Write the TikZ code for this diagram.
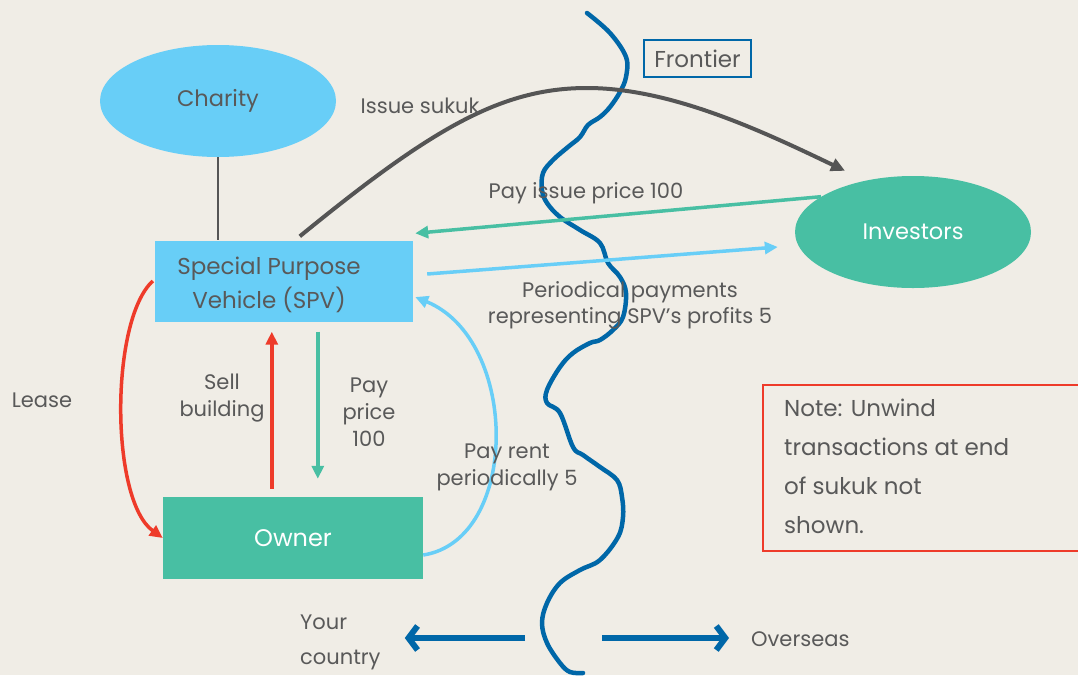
\documentclass[tikz,border=0pt]{standalone}
\usepackage{fontspec}
\setmainfont{Poppins}
\usetikzlibrary{shapes.geometric,arrows.meta,calc}
\definecolor{bg}{RGB}{240,237,230}
\definecolor{lblue}{RGB}{104,206,247}
\definecolor{teal}{RGB}{72,191,163}
\definecolor{txt}{RGB}{89,89,89}
\definecolor{dgray}{RGB}{85,85,85}
\definecolor{redc}{RGB}{238,59,42}
\definecolor{dblue}{RGB}{0,103,168}
\tikzset{
  lab/.style={text=txt,font=\fontsize{21}{27}\selectfont,align=center,inner sep=0pt},
  ell/.style={ellipse,minimum width=236pt,minimum height=112pt,inner sep=0pt,font=\fontsize{22.5}{27}\selectfont},
  boxx/.style={rectangle,inner sep=0pt,font=\fontsize{23}{27}\selectfont},
  arr/.style={line width=3.5pt,-{Triangle[length=13pt,width=12pt]}},
  bigarr/.style={line width=6pt,dblue,-{Straight Barb[length=9pt,width=24pt]}},
}
\begin{document}
\begin{tikzpicture}[x=1pt,y=-1pt]
\fill[bg] (0,0) rectangle (1078,675);
\useasboundingbox (0,0) rectangle (1078,675);

% nodes
\node[ell,fill=lblue,text=txt] (charity) at (218,101) {Charity};
\node[ell,fill=teal,text=white] (investors) at (913,232) {Investors};
\node[boxx,fill=lblue,minimum width=258pt,minimum height=81pt] (spv) at (284,281) {};
\node[lab,font=\fontsize{23}{34}\selectfont] (spvtext) at (269,285) {Special Purpose\\Vehicle (SPV)};
\node[boxx,fill=teal,text=white,minimum width=260pt,minimum height=82pt,font=\fontsize{24}{27}\selectfont] (owner) at (293,538) {Owner};
\node[boxx,draw=dblue,line width=2pt,text=txt,minimum width=107pt,minimum height=37pt] (frontier) at (697.5,58.5) {Frontier};

% frontier line
\draw[dblue,line width=4.5pt,line cap=round,line join=round] plot[smooth,tension=0.6] coordinates {
(587,13) (610,33) (626,57) (626,77) (620,92) (610,107) (600,117) (588,125) (580,137) (568,147) (553,160) (543,173) (542,190) (547,203) (560,217) (580,230) (600,243) (608,263) (620,277) (626,293) (623,317) (613,330) (600,340) (590,343) (573,353) (560,367) (547,390) (547,403) (560,413) (573,447) (583,455) (600,467) (617,480) (622,497) (623,517) (618,537) (600,560) (580,570) (560,583) (547,603) (542,623) (547,643) (560,663) (570,672) (583,673)};

% connectors
\draw[dgray,line width=2pt] (charity.south) -- (charity.south |- spv.north);
\draw[dgray,line width=4pt,-{Triangle[length=14pt,width=13pt]}]
  ($(spv.north west)+(145,-4)$) .. controls (430,130) and (500,88) .. (587,88)
  .. controls (670,88) and (760,130) .. ($(investors.north)+(-68,-5)$);
\node[lab] (issue) at (420,106) {Issue sukuk};

\draw[teal,arr] (investors.159) -- ($(spv.north east)+(2,-7)$);
\node[lab] (payissue) at (586,193) {Pay issue price 100};

\draw[lblue,arr] ($(spv.east)+(14,-7)$) -- ($(investors.west)+(-17,15)$);
\node[lab,font=\fontsize{21}{26}\selectfont] (periodical) at (630,305) {Periodical payments\\representing SPV’s profits 5};

\draw[lblue,arr] ($(owner.east)+(0,17)$) .. controls (520,540) and (520,340) .. ($(spv.east)+(2,16)$);
\node[lab] (payrent) at (507,467) {Pay rent\\periodically 5};

\draw[redc,arr] ($(spv.west)+(-2,0)$) .. controls (110,320) and (110,500) .. (owner.west);
\node[lab] (lease) at (42,400) {Lease};

\draw[redc,line width=3.5pt,-{Triangle[length=13pt,width=12pt]}] ($(owner.north west)+(109,-8)$) -- ($(spv.south west)+(117,10)$);
\node[lab] (sell) at (222,398) {Sell\\building};

\draw[teal,arr] ($(spv.south west)+(163,10)$) -- ($(owner.north west)+(155,-18)$);
\node[lab] (payprice) at (369,412) {Pay\\price\\100};

% note
\draw[redc,line width=2pt] (763,385) rectangle (1090,551);
\node[lab,align=left,anchor=north west,font=\fontsize{23}{39}\selectfont] (note) at (784,399) {Note: Unwind\\transactions at end\\of sukuk not\\shown.};

% bottom
\node[lab,align=left,anchor=west,font=\fontsize{21}{35}\selectfont] (yc) at (300,642) {Your\\country};
\node[lab,anchor=west] (overseas) at (751,639) {Overseas};
\coordinate (l1) at (525,638);
\coordinate (r1) at (602,638);
\draw[bigarr] (l1) -- ($(yc.east)+(24,-4)$);
\draw[bigarr] (r1) -- ($(overseas.west)+(-22,-1)$);
\end{tikzpicture}
\end{document}
